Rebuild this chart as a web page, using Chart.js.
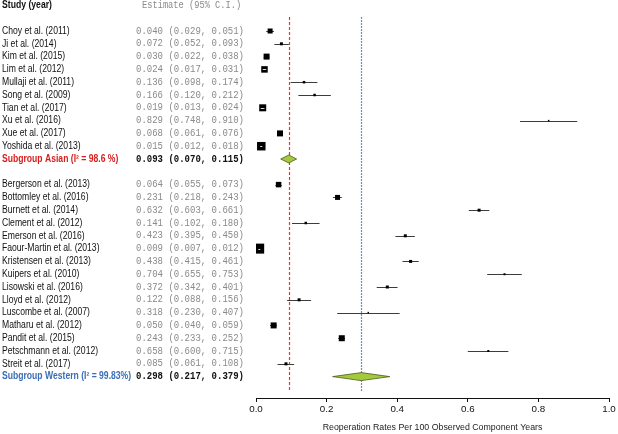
<!DOCTYPE html>
<html>
<head>
<meta charset="utf-8">
<script src="https://cdn.jsdelivr.net/npm/chart.js@4/dist/chart.umd.min.js"></script>
<style>
  html, body { margin: 0; padding: 0; background: #ffffff; }
  #wrap { width: 618px; height: 434px; position: relative; }
</style>
</head>
<body>
<div id="wrap"><canvas id="c"></canvas></div>
<script>
// ---------- DATA ----------
const asianStudies = ["Choy et al. (2011)", "Ji et al. (2014)", "Kim et al. (2015)", "Lim et al. (2012)",
  "Mullaji et al. (2011)", "Song et al. (2009)", "Tian et al. (2017)", "Xu et al. (2016)",
  "Xue et al. (2017)", "Yoshida et al. (2013)"];
const asianEst = [0.040, 0.072, 0.030, 0.024, 0.136, 0.166, 0.019, 0.829, 0.068, 0.015];
const asianLo  = [0.029, 0.052, 0.022, 0.017, 0.098, 0.120, 0.013, 0.748, 0.061, 0.012];
const asianHi  = [0.051, 0.093, 0.038, 0.031, 0.174, 0.212, 0.024, 0.910, 0.076, 0.018];
const asianWeight = [5, 3, 6, 6.5, 2.5, 2.5, 7, 1.5, 6, 8.5];

const westernStudies = ["Bergerson et al. (2013)", "Bottomley et al. (2016)", "Burnett et al. (2014)",
  "Clement et al. (2012)", "Emerson et al. (2016)", "Faour-Martin et al. (2013)", "Kristensen et al. (2013)",
  "Kuipers et al. (2010)", "Lisowski et al. (2016)", "Lloyd et al. (2012)", "Luscombe et al. (2007)",
  "Matharu et al. (2012)", "Pandit et al. (2015)", "Petschmann et al. (2012)", "Streit et al. (2017)"];
const westernEst = [0.064, 0.231, 0.632, 0.141, 0.423, 0.009, 0.438, 0.704, 0.372, 0.122, 0.318, 0.050, 0.243, 0.658, 0.085];
const westernLo  = [0.055, 0.218, 0.603, 0.102, 0.395, 0.007, 0.415, 0.655, 0.342, 0.088, 0.230, 0.040, 0.233, 0.600, 0.061];
const westernHi  = [0.073, 0.243, 0.661, 0.180, 0.450, 0.012, 0.461, 0.753, 0.401, 0.156, 0.407, 0.059, 0.252, 0.715, 0.108];
const westernWeight = [5.5, 5, 3, 2.5, 3, 10, 3, 2, 3, 3, 1.5, 6, 6, 2, 3];

const subgroupLabels = ["Subgroup Asian (I\u00B2 = 98.6 %)", "Subgroup Western (I\u00B2 = 99.83%)"];
const subgroupEst = [0.093, 0.298];
const subgroupLo  = [0.070, 0.217];
const subgroupHi  = [0.115, 0.379];

const xTicks = [0.0, 0.2, 0.4, 0.6, 0.8, 1.0];
const headerStudy = "Study (year)";
const headerEst = "Estimate (95% C.I.)";
const xTitle = "Reoperation Rates Per 100 Observed Component Years";

// ---------- ROW LAYOUT (built from data) ----------
const rows = [];
let r = 2;
asianStudies.forEach((s, i) => rows.push({type: 'study', label: s, est: asianEst[i], lo: asianLo[i], hi: asianHi[i], w: asianWeight[i], row: r++}));
rows.push({type: 'sub', label: subgroupLabels[0], est: subgroupEst[0], lo: subgroupLo[0], hi: subgroupHi[0], row: r++, group: 0});
r++;
westernStudies.forEach((s, i) => rows.push({type: 'study', label: s, est: westernEst[i], lo: westernLo[i], hi: westernHi[i], w: westernWeight[i], row: r++}));
rows.push({type: 'sub', label: subgroupLabels[1], est: subgroupEst[1], lo: subgroupLo[1], hi: subgroupHi[1], row: r++, group: 1});

const studyRows = rows.filter(d => d.type === 'study');
const fmt = v => v.toFixed(3);

const SANS = '"Liberation Sans", Arial, sans-serif';
const MONO = '"Liberation Mono", "Courier New", monospace';
const subColors = ['#d81e1e', '#3a6db5'];
const refStyles = [{color: '#ff2a2a', dash: [3, 2]}, {color: '#5b93d8', dash: [2, 1]}];

function drawText(ctx, text, x, y, font, color, sx) {
  ctx.save();
  ctx.translate(x, y);
  ctx.scale(sx, 1);
  ctx.font = font;
  ctx.fillStyle = color;
  ctx.fillText(text, 0, 0);
  ctx.restore();
}

const forestPlugin = {
  id: 'forest',
  beforeDatasetsDraw(chart) {
    const {ctx, chartArea} = chart;
    const xs = chart.scales.x, ys = chart.scales.y;
    ctx.save();
    subgroupEst.forEach((v, i) => {
      const px = Math.round(xs.getPixelForValue(v)) + 0.5;
      ctx.strokeStyle = refStyles[i].color;
      ctx.lineWidth = 1.2;
      ctx.setLineDash(refStyles[i].dash);
      ctx.beginPath();
      ctx.moveTo(px, chartArea.top);
      ctx.lineTo(px, ys.getPixelForValue(30.2));
      ctx.stroke();
    });
    ctx.setLineDash([]);
    ctx.strokeStyle = '#3c3c3c';
    ctx.lineWidth = 1;
    studyRows.forEach(d => {
      const y = Math.round(ys.getPixelForValue(d.row)) + 0.5;
      ctx.beginPath();
      ctx.moveTo(xs.getPixelForValue(d.lo), y);
      ctx.lineTo(xs.getPixelForValue(d.hi), y);
      ctx.stroke();
    });
    ctx.restore();
  },
  afterDatasetsDraw(chart) {
    const {ctx} = chart;
    const xs = chart.scales.x, ys = chart.scales.y;
    ctx.save();
    ctx.strokeStyle = '#d8d8d8';
    ctx.lineWidth = 1;
    studyRows.forEach(d => {
      if (d.w < 6.5) return;
      const y = Math.round(ys.getPixelForValue(d.row)) + 0.5;
      const cx = xs.getPixelForValue(d.est);
      const half = d.w / 2 - 1.5;
      const a = Math.max(xs.getPixelForValue(d.lo), cx - half);
      const b = Math.min(xs.getPixelForValue(d.hi), cx + half);
      ctx.beginPath();
      ctx.moveTo(Math.min(a, cx - 0.8), y);
      ctx.lineTo(Math.max(b, cx + 0.8), y);
      ctx.stroke();
    });
    rows.filter(d => d.type === 'sub').forEach(d => {
      const y = ys.getPixelForValue(d.row);
      const l = xs.getPixelForValue(d.lo), m = xs.getPixelForValue(d.est), h = xs.getPixelForValue(d.hi);
      ctx.beginPath();
      ctx.moveTo(l, y);
      ctx.lineTo(m, y - 4);
      ctx.lineTo(h, y);
      ctx.lineTo(m, y + 4);
      ctx.closePath();
      ctx.fillStyle = '#a4c93c';
      ctx.fill();
      ctx.strokeStyle = '#4b5a20';
      ctx.lineWidth = 0.8;
      ctx.stroke();
    });
    ctx.restore();
  },
  afterDraw(chart) {
    const {ctx} = chart;
    const ys = chart.scales.y;
    ctx.save();
    ctx.textBaseline = 'middle';
    ctx.textAlign = 'left';
    const yh = ys.getPixelForValue(0);
    drawText(ctx, headerStudy, 2, yh, 'bold 10px ' + SANS, '#111', 0.865);
    drawText(ctx, headerEst, 142, yh, '10px ' + MONO, '#8a8a8a', 0.87);
    rows.forEach(d => {
      const y = ys.getPixelForValue(d.row);
      const txt = fmt(d.est) + ' (' + fmt(d.lo) + ', ' + fmt(d.hi) + ')';
      if (d.type === 'study') {
        drawText(ctx, d.label, 2, y, '10px ' + SANS, '#111', 0.86);
        drawText(ctx, txt, 136, y, '10px ' + MONO, '#8a8a8a', 0.9);
      } else {
        drawText(ctx, d.label, 2, y, 'bold 10px ' + SANS, subColors[d.group], 0.86);
        drawText(ctx, txt, 136, y, 'bold 10px ' + MONO, '#111', 0.9);
      }
    });
    ctx.restore();
  }
};

const ctxEl = document.getElementById('c');
new Chart(ctxEl, {
  type: 'scatter',
  data: {
    datasets: [{
      data: studyRows.map(d => ({x: d.est, y: d.row})),
      pointStyle: 'rect',
      pointRadius: studyRows.map(d => d.w / (2 * Math.SQRT1_2)),
      pointHoverRadius: studyRows.map(d => d.w / (2 * Math.SQRT1_2)),
      backgroundColor: '#000',
      borderWidth: 0
    }]
  },
  options: {
    responsive: true,
    maintainAspectRatio: false,
    animation: false,
    devicePixelRatio: 1,
    layout: { padding: { left: 256, right: 9, top: 17, bottom: 0 } },
    plugins: { legend: { display: false }, tooltip: { enabled: false } },
    scales: {
      x: {
        type: 'linear',
        min: 0, max: 1,
        afterBuildTicks: (axis) => { axis.ticks = xTicks.map(v => ({value: v})); },
        afterFit: (axis) => { axis.height = 36; },
        ticks: {
          color: '#111',
          font: { family: SANS, size: 9.8 },
          padding: 1,
          maxRotation: 0,
          callback: v => Number(v).toFixed(1)
        },
        grid: { display: true, drawOnChartArea: false, drawTicks: true, tickLength: 4, color: '#111', lineWidth: 1 },
        border: { display: true, color: '#111', width: 1 },
        title: {
          display: true,
          text: xTitle,
          color: '#222',
          font: { family: SANS, size: 8.8 },
          padding: { top: 2, bottom: 1 }
        }
      },
      y: {
        type: 'linear',
        reverse: true,
        min: 0.906,
        max: 30.67,
        display: false
      }
    }
  },
  plugins: [forestPlugin]
});
</script>
</body>
</html>
